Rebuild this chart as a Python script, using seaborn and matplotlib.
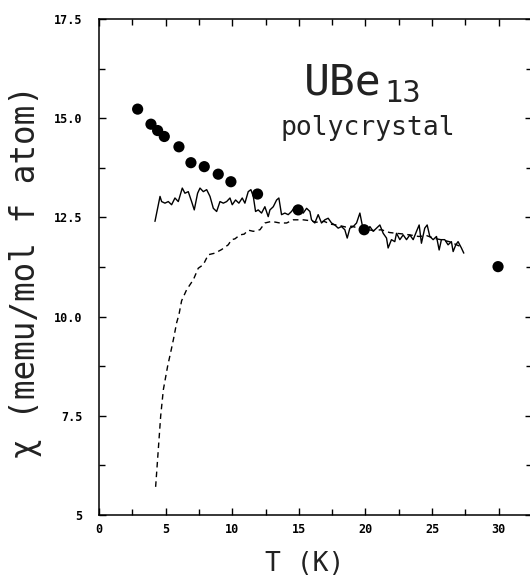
import numpy as np
import pandas as pd
import matplotlib
matplotlib.use("Agg")
import matplotlib.pyplot as plt
import seaborn as sns
from matplotlib.ticker import MultipleLocator, FixedLocator, FixedFormatter

# measured points (filled circles)
dot_T = [2.9, 3.9, 4.4, 4.9, 6.0, 6.9, 7.9, 8.95, 9.9, 11.9, 14.95, 19.9, 29.95]
dot_chi = [15.23, 14.85, 14.69, 14.54, 14.28, 13.88, 13.78, 13.59, 13.40, 13.09, 12.69, 12.19, 11.26]

# solid curve (noisy)
solid_T = [4.2, 4.58, 4.70, 4.95, 5.2, 5.45, 5.7, 5.95, 6.25, 6.45, 6.7, 6.95, 7.15, 7.4,
           7.58, 7.83, 8.08, 8.33, 8.58, 8.83, 9.08, 9.33, 9.58, 9.83, 10.0, 10.25, 10.5,
           10.75, 10.95, 11.2, 11.4, 11.58, 11.75, 11.95, 12.2, 12.45, 12.7, 12.83, 13.08,
           13.33, 13.5, 13.7, 13.95, 14.2, 14.45, 14.7, 15.08, 15.33, 15.58, 15.83, 15.95,
           16.2, 16.45, 16.7, 16.95, 17.2, 17.45, 17.7, 17.95, 18.2, 18.45, 18.63, 18.83,
           19.08, 19.33, 19.58, 19.78, 20.08, 20.33, 20.58, 20.83, 21.08, 21.33, 21.58,
           21.7, 21.95, 22.2, 22.33, 22.58, 22.83, 23.08, 23.33, 23.58, 23.83, 24.03, 24.2,
           24.45, 24.63, 24.83, 25.08, 25.33, 25.53, 25.7, 25.95, 26.2, 26.45, 26.58, 26.78,
           26.95, 27.2, 27.38]
solid_chi = [12.40, 13.03, 12.90, 12.86, 12.90, 12.82, 12.99, 12.90, 13.24, 13.11, 13.15,
             12.90, 12.69, 13.11, 13.24, 13.15, 13.20, 13.03, 12.73, 12.65, 12.90, 12.86,
             12.90, 12.99, 12.82, 12.94, 12.86, 12.99, 12.86, 13.15, 13.20, 13.03, 12.65,
             12.69, 12.61, 12.77, 12.52, 12.69, 12.77, 12.94, 12.99, 12.57, 12.61, 12.57,
             12.65, 12.77, 12.77, 12.61, 12.73, 12.65, 12.44, 12.36, 12.57, 12.36, 12.44,
             12.48, 12.36, 12.31, 12.23, 12.27, 12.19, 11.98, 12.23, 12.27, 12.36, 12.61,
             12.27, 12.10, 12.27, 12.15, 12.23, 12.31, 12.10, 11.98, 11.73, 11.94, 11.89,
             12.10, 11.94, 12.06, 11.94, 12.06, 11.94, 12.15, 12.31, 11.85, 12.23, 12.31,
             12.02, 11.94, 12.02, 11.68, 11.94, 11.94, 11.81, 11.89, 11.64, 11.81, 11.89,
             11.73, 11.60]

# dashed curve
dash_T = [4.25, 4.45, 4.63, 4.83, 5.15, 5.45, 5.6, 5.83, 6.0, 6.2, 6.58, 7.08, 7.45, 7.83,
          8.2, 8.7, 9.2, 9.7, 9.95, 10.2, 10.58, 10.9, 11.2, 11.58, 12.08, 12.45, 12.95,
          13.58, 14.08, 14.58, 15.33, 15.8, 16.3, 16.9, 17.4, 18.0, 18.5, 19.0, 19.5, 20.0,
          20.6, 21.2, 21.8, 22.33, 22.9, 23.5, 24.0, 24.6, 25.2, 25.8, 26.4, 26.9, 27.35]
dash_chi = [5.71, 6.65, 7.50, 8.16, 8.75, 9.21, 9.45, 9.85, 10.05, 10.40, 10.68, 10.93,
            11.22, 11.31, 11.56, 11.60, 11.69, 11.81, 11.94, 11.96, 12.06, 12.08, 12.18,
            12.15, 12.19, 12.36, 12.40, 12.36, 12.36, 12.44, 12.44, 12.42, 12.38, 12.40,
            12.33, 12.30, 12.26, 12.28, 12.22, 12.20, 12.17, 12.19, 12.12, 12.10, 12.08,
            12.05, 12.02, 12.04, 11.97, 11.93, 11.88, 11.80, 11.74]

y_ticks = [5, 7.5, 10, 12.5, 15, 17.5]
y_tick_labels = ["5", "7.5", "10.0", "12.5", "15.0", "17.5"]
x_ticks = [0, 5, 10, 15, 20, 25, 30]

sns.set_style("ticks")
plt.rcParams['font.family'] = ['DejaVu Sans Mono', 'DejaVu Sans']

fig = plt.figure(figsize=(5.3, 5.79), dpi=100)
ax = fig.add_axes([0.1868, 0.1105, 0.817, 0.8566])

dots = pd.DataFrame({'T': dot_T, 'chi': dot_chi})
solid = pd.DataFrame({'T': solid_T, 'chi': solid_chi})
dashed = pd.DataFrame({'T': dash_T, 'chi': dash_chi})

sns.lineplot(data=dashed, x='T', y='chi', ax=ax, color='black', lw=1.0,
             sort=False, estimator=None, linestyle=(0, (4, 3)))
sns.lineplot(data=solid, x='T', y='chi', ax=ax, color='black', lw=1.0,
             sort=False, estimator=None)
sns.scatterplot(data=dots, x='T', y='chi', ax=ax, color='black', s=65,
                edgecolor='none', zorder=5)

ax.set_xlim(0, 32.5)
ax.set_ylim(5, 17.5)
ax.xaxis.set_major_locator(FixedLocator(x_ticks))
ax.xaxis.set_minor_locator(MultipleLocator(2.5))
ax.yaxis.set_major_locator(FixedLocator(y_ticks))
ax.yaxis.set_major_formatter(FixedFormatter(y_tick_labels))
ax.yaxis.set_minor_locator(MultipleLocator(1.25))

ax.tick_params(which='both', direction='in', top=True, right=True, width=1.0,
               labelsize=8.5, colors='black')
ax.tick_params(which='major', length=5)
ax.tick_params(which='minor', length=4)
ax.tick_params(axis='y', pad=12)
ax.tick_params(axis='x', pad=6)
for lab in ax.get_xticklabels() + ax.get_yticklabels():
    lab.set_fontweight('bold')
for sp in ax.spines.values():
    sp.set_linewidth(1.1)
    sp.set_color('black')

ax.set_xlabel('T (K)', fontsize=19, color='#222222')
ax.set_ylabel('χ (memu/mol f atom)', fontsize=23.5, color='#222222')
ax.xaxis.set_label_coords(0.476, -0.0725)
ax.yaxis.set_label_coords(-0.132, 0.49)

ax.text(15.4, 15.9, 'UBe', fontsize=31, va='center', ha='left', color='#222222')
ax.text(21.4, 15.62, '13', fontsize=22, va='center', ha='left', color='#222222')
ax.text(13.6, 14.75, 'polycrystal', fontsize=19, va='center', ha='left', color='#222222')

fig.savefig('out.png', dpi=100)
